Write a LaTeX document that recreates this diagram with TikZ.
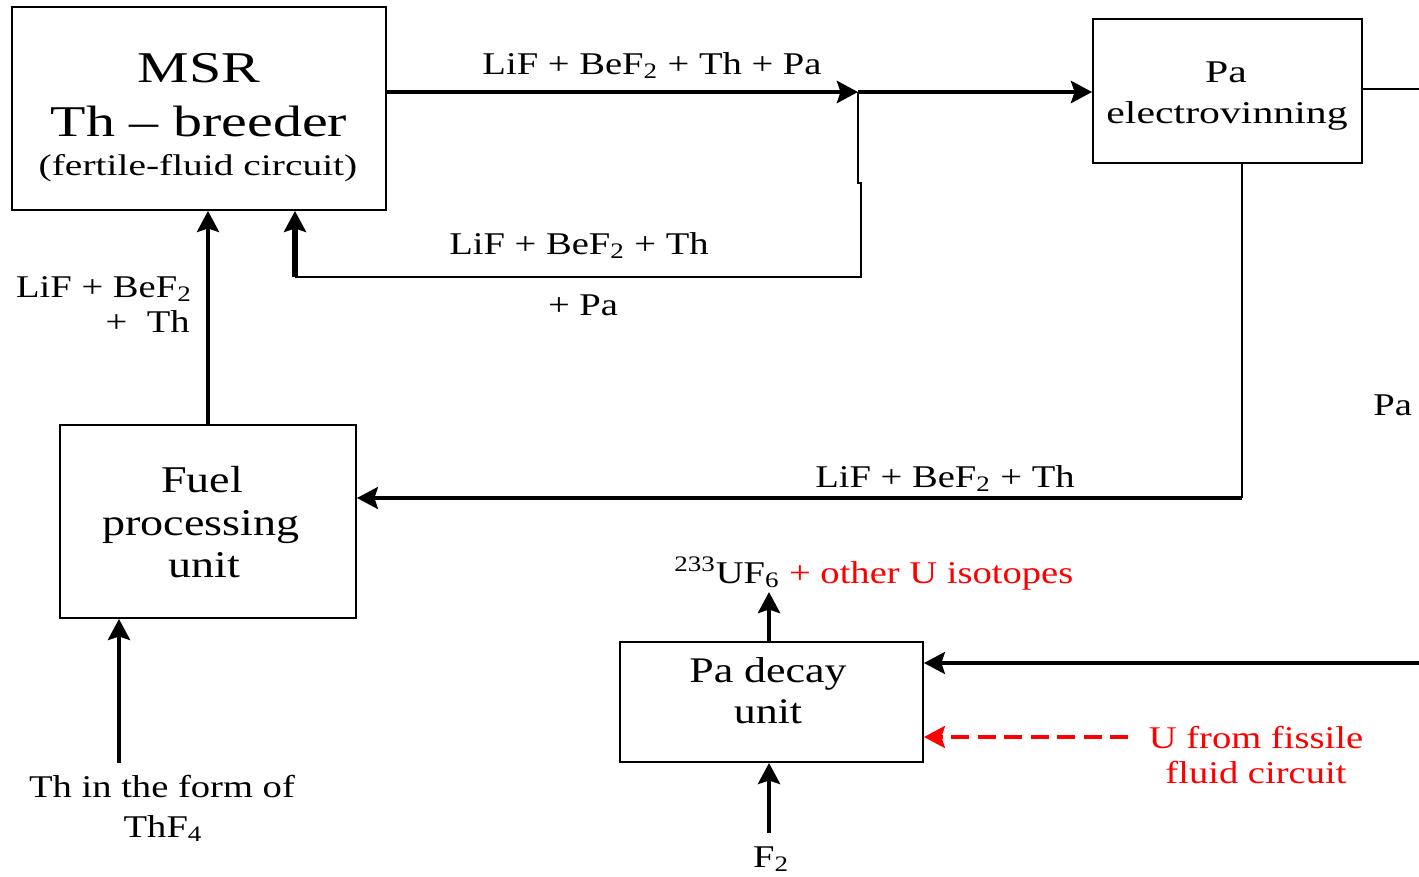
\documentclass[tikz,border=0pt]{standalone}
\usepackage{fontspec}
\setmainfont{Liberation Serif}[FakeStretch=1.22,Ligatures=TeX]
\newfontfamily\wideserif{Liberation Serif}[FakeStretch=1.32,Ligatures=TeX]
\usetikzlibrary{arrows.meta}
\begin{document}
\begin{tikzpicture}[x=0.02cm,y=-0.02cm,
  box/.style={draw,line width=1.1pt,inner sep=0pt},
  txt/.style={inner sep=0pt,anchor=base},
  lbl/.style={txt,font=\fontsize{18pt}{21pt}\selectfont},
  arr/.style={-{Stealth[length=0.42cm,width=0.44cm,inset=0.07cm]}},
  thk/.style={line width=2.5pt},
  med/.style={line width=1.8pt},
  thn/.style={line width=1.1pt}]
\useasboundingbox (0,0) rectangle (1419,876);
% boxes
\node[box,minimum width=7.48cm,minimum height=4.06cm] (msr) at (199,108.5) {};
\node[box,minimum width=5.38cm,minimum height=2.88cm] (elv) at (1227.5,91) {};
\node[box,minimum width=5.92cm,minimum height=3.86cm] (fpu) at (208,521.5) {};
\node[box,minimum width=6.06cm,minimum height=2.4cm] (pdu) at (771.5,702) {};
% box texts
\node[txt,font=\wideserif\fontsize{25pt}{30pt}\selectfont] (msrA) at (199,82) {MSR};
\node[txt,font=\wideserif\fontsize{25pt}{30pt}\selectfont] (msrB) at (199,136) {Th -- breeder};
\node[txt,font=\wideserif\fontsize{17pt}{20pt}\selectfont] (msrC) at (198,175) {(fertile-fluid circuit)};
\node[txt,font=\wideserif\fontsize{18pt}{21pt}\selectfont] (elvA) at (1226,82) {Pa};
\node[txt,font=\wideserif\fontsize{18pt}{21pt}\selectfont] (elvB) at (1227,123) {electrovinning};
\node[txt,font=\fontsize{21.5pt}{25pt}\selectfont] (fpuA) at (202,492) {Fuel};
\node[txt,font=\fontsize{21.5pt}{25pt}\selectfont] (fpuB) at (201,535) {processing};
\node[txt,font=\fontsize{21.5pt}{25pt}\selectfont] (fpuC) at (204,577) {unit};
\node[txt,font=\fontsize{20.5pt}{24pt}\selectfont] (pduA) at (768,682) {Pa decay};
\node[txt,font=\fontsize{20.5pt}{24pt}\selectfont] (pduB) at (768,723) {unit};
% connector coordinates
\coordinate (j1) at (858,92);
\coordinate (j2) at (861,277);
\coordinate (j3) at (295,277);
\coordinate (eR) at (1419,89);
\coordinate (j4) at (1242,498);
\coordinate (thsrc) at (119,763);
\coordinate (uout) at (769,592);
\coordinate (pin) at (1419,663);
\coordinate (uin) at (1128,737);
\coordinate (f2) at (769,833);
% connectors
\draw[line width=2.8pt,arr] (msr.east |- j1) -- (j1);
\draw[line width=2.8pt,arr] (j1) -- (elv.west |- j1);
\draw[thn] (j1) -- (858,183) -- (861,183) -- (j2) -- (j3);
\draw[line width=3pt,arr] (j3) -- (msr.south -| j3);
\draw[thn] (elv.east |- eR) -- (eR);
\draw[thn] (elv.south -| j4) -- (j4);
\draw[med,arr] (j4) -- (fpu.east |- j4);
\draw[thk,arr] (fpu.north) -- (msr.south -| fpu.north);
\draw[thk,arr] (thsrc) -- (fpu.south -| thsrc);
\draw[thk,arr] (pdu.north -| uout) -- (uout);
\draw[med,arr] (pin) -- (pdu.east |- pin);
\draw[med,red,dash pattern=on 0.36cm off 0.17cm,arr] (uin) -- (pdu.east |- uin);
\draw[thk,arr] (f2) -- (pdu.south -| f2);
% labels
\node[lbl] (l1) at (652,74) {LiF + BeF\textsubscript{2} + Th + Pa};
\node[lbl] (l2) at (579,254) {LiF + BeF\textsubscript{2} + Th};
\node[lbl] (l3) at (583,315) {+ Pa};
\node[lbl,anchor=base east] (l4) at (192,297) {LiF + BeF\textsubscript{2}};
\node[lbl,anchor=base east] (l5) at (190,332) {+\ \ Th};
\node[lbl,anchor=base west] (l6) at (1373,415) {Pa};
\node[lbl] (l7) at (945,487) {LiF + BeF\textsubscript{2} + Th};
\node[lbl,anchor=base west] (l8) at (674,583) {\textsuperscript{233}UF\textsubscript{6} \textcolor{red}{+ other U isotopes}};
\node[lbl,text=red] (l9) at (1256,748) {U from fissile};
\node[lbl,text=red] (l10) at (1256,783) {fluid circuit};
\node[lbl] (l11) at (162,797) {Th in the form of};
\node[lbl] (l12) at (163,837) {ThF\textsubscript{4}};
\node[lbl] (l13) at (771,867) {F\textsubscript{2}};
\end{tikzpicture}
\end{document}
